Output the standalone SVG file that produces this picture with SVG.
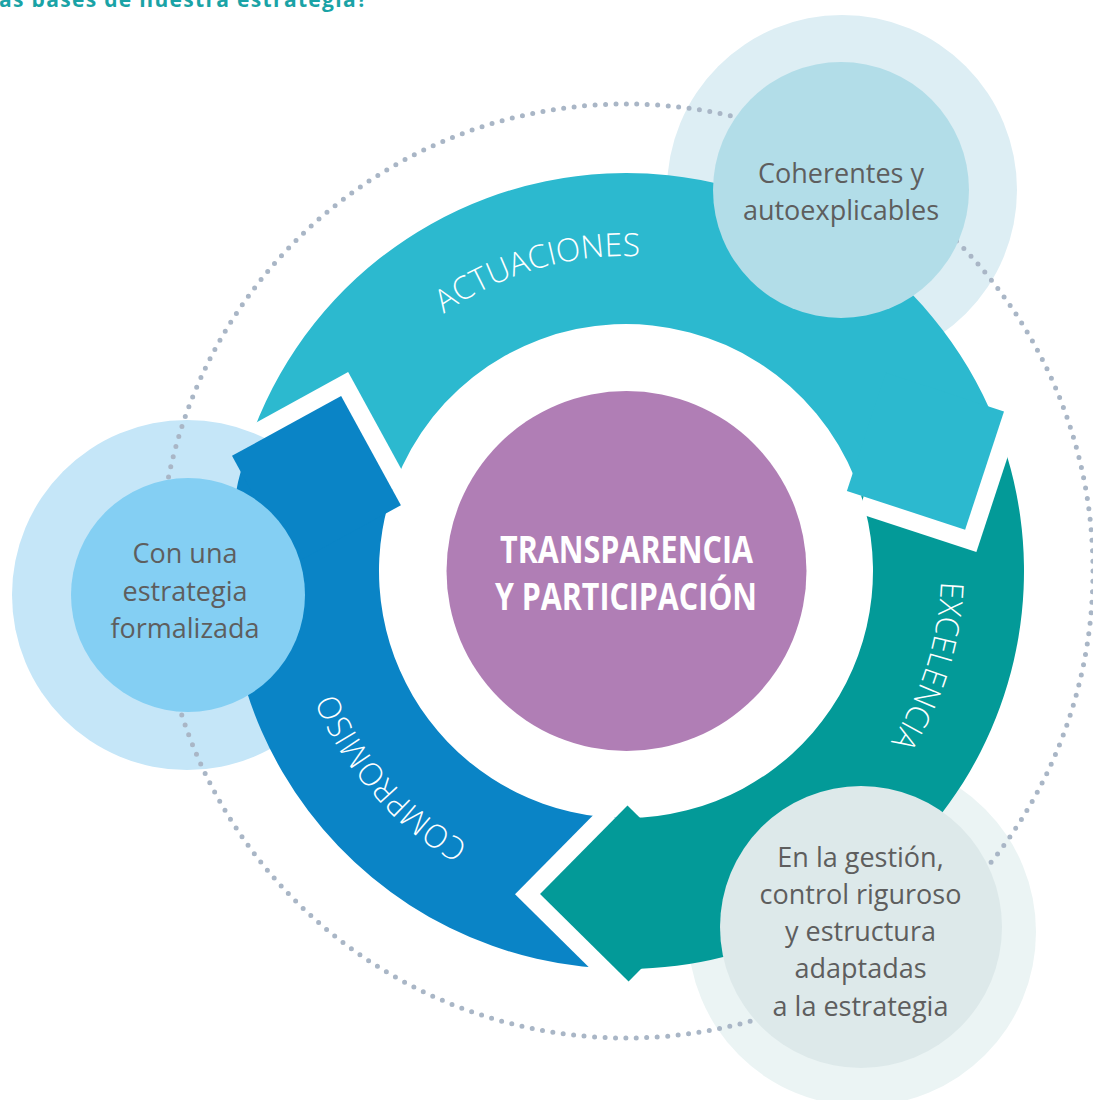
<svg xmlns="http://www.w3.org/2000/svg" xmlns:xlink="http://www.w3.org/1999/xlink" width="1093" height="1100" viewBox="0 0 1093 1100">
<style>
.node-text{font-family:"Open Sans","Noto Sans","Liberation Sans",sans-serif;font-size:27px;fill:#5e5e5e;text-anchor:middle}
.center-text{font-family:"Open Sans","Noto Sans","Liberation Sans",sans-serif;font-size:37px;font-weight:700;fill:#ffffff;text-anchor:middle}
.arc-label{font-family:"Open Sans","Noto Sans","Liberation Sans",sans-serif;font-size:32px;font-weight:300;fill:#ffffff;text-anchor:middle}
.title{font-family:"Open Sans","Noto Sans","Liberation Sans",sans-serif;font-size:21px;font-weight:700;fill:#1aa3a6}
</style>
<defs>
  <rect id="sq" x="-62.23" y="-62.23" width="124.45" height="124.45"/>
  <path id="textCircle" d="M941,571 A315,315 0 1 1 311,571 A315,315 0 1 1 941,571"/>
  <mask id="m-actuaciones" maskUnits="userSpaceOnUse" x="0" y="0" width="1093" height="1100">
    <rect x="0" y="0" width="1093" height="1100" fill="#fff"/>
    <g transform="rotate(196.29 626 571)" fill="#000">
      <use href="#sq" transform="translate(948.5 571) rotate(45)"/>
      <use href="#sq" transform="translate(948.5 596) rotate(45)"/>
    </g>
  </mask>
  <mask id="m-excelencia" maskUnits="userSpaceOnUse" x="0" y="0" width="1093" height="1100">
    <rect x="0" y="0" width="1093" height="1100" fill="#fff"/>
    <g transform="rotate(338.2 626 571)" fill="#000">
      <use href="#sq" transform="translate(948.5 571) rotate(40)"/>
      <use href="#sq" transform="translate(950.68 595.9) rotate(40)"/>
    </g>
  </mask>
  <mask id="m-compromiso" maskUnits="userSpaceOnUse" x="0" y="0" width="1093" height="1100">
    <rect x="0" y="0" width="1093" height="1100" fill="#fff"/>
    <g transform="rotate(89.64 626 571)" fill="#000">
      <use href="#sq" transform="translate(948.5 571) rotate(45)"/>
      <use href="#sq" transform="translate(948.5 596) rotate(45)"/>
    </g>
  </mask>
</defs>

<text class="title" x="-1" y="7" textLength="368">as bases de nuestra estrategia?</text>

<g id="halos">
  <circle cx="842" cy="190" r="175" fill="#ddeef4"/>
  <circle cx="187" cy="595" r="175" fill="#c5e6f8"/>
  <circle cx="862" cy="932" r="174" fill="#ebf4f4"/>
</g>

<g id="orbit">
  <circle cx="626" cy="571" r="467" fill="none" stroke="#a9b6c6" stroke-width="5" stroke-linecap="round" stroke-dasharray="0 10.4794"/>
</g>

<g id="connectors">
  <g id="arrow-actuaciones">
    <g mask="url(#m-actuaciones)">
      <path fill="#2cb9cf" transform="rotate(196.29 626 571)" d="M1024,571 A398,398 0 0 1 312.76,816.53 L431.6,723.37 A247,247 0 0 0 873,571 Z"/>
    </g>
    <use href="#sq" fill="#2cb9cf" transform="rotate(338.2 626 571) translate(948.5 571) rotate(40)"/>
    <text class="arc-label"><textPath href="#textCircle" startOffset="1393.7" textLength="208" lengthAdjust="spacingAndGlyphs">ACTUACIONES</textPath></text>
  </g>
  <g id="arrow-excelencia">
    <g mask="url(#m-excelencia)">
      <path fill="#039a98" transform="rotate(338.2 626 571)" d="M1024,571 A398,398 0 0 1 480.52,941.46 L535.71,800.91 A247,247 0 0 0 873,571 Z"/>
    </g>
    <use href="#sq" fill="#039a98" transform="rotate(89.64 626 571) translate(948.5 571) rotate(45)"/>
    <text class="arc-label"><textPath href="#textCircle" startOffset="95.7" textLength="170" lengthAdjust="spacingAndGlyphs">EXCELENCIA</textPath></text>
  </g>
  <g id="arrow-compromiso">
    <g mask="url(#m-compromiso)">
      <path fill="#0a84c6" transform="rotate(89.64 626 571)" d="M1024,571 A398,398 0 0 1 511.96,952.32 L555.23,807.65 A247,247 0 0 0 873,571 Z"/>
    </g>
    <use href="#sq" fill="#0a84c6" transform="rotate(196.29 626 571) translate(948.5 571) rotate(45)"/>
    <text class="arc-label"><textPath href="#textCircle" startOffset="762" textLength="205" lengthAdjust="spacingAndGlyphs">COMPROMISO</textPath></text>
  </g>
</g>

<g id="node-coherentes">
  <circle cx="841" cy="190" r="128" fill="#b2dde8"/>
  <text class="node-text" x="841" y="183">Coherentes y</text>
  <text class="node-text" x="841" y="220">autoexplicables</text>
</g>

<g id="node-estrategia">
  <circle cx="188" cy="595" r="117" fill="#84cff3"/>
  <text class="node-text" x="185" y="563">Con una</text>
  <text class="node-text" x="185" y="601">estrategia</text>
  <text class="node-text" x="185" y="638">formalizada</text>
</g>

<g id="node-gestion">
  <circle cx="861" cy="927" r="141" fill="#dde9ea"/>
  <text class="node-text" x="860.5" y="867">En la gestión,</text>
  <text class="node-text" x="860.5" y="904">control riguroso</text>
  <text class="node-text" x="860.5" y="941">y estructura</text>
  <text class="node-text" x="860.5" y="978">adaptadas</text>
  <text class="node-text" x="860.5" y="1016">a la estrategia</text>
</g>

<g id="node-centro">
  <circle cx="626.5" cy="571" r="180" fill="#b07eb5"/>
  <text class="center-text" x="626.5" y="563" textLength="253" lengthAdjust="spacingAndGlyphs">TRANSPARENCIA</text>
  <text class="center-text" x="626" y="610" textLength="262" lengthAdjust="spacingAndGlyphs">Y PARTICIPACIÓN</text>
</g>
</svg>
